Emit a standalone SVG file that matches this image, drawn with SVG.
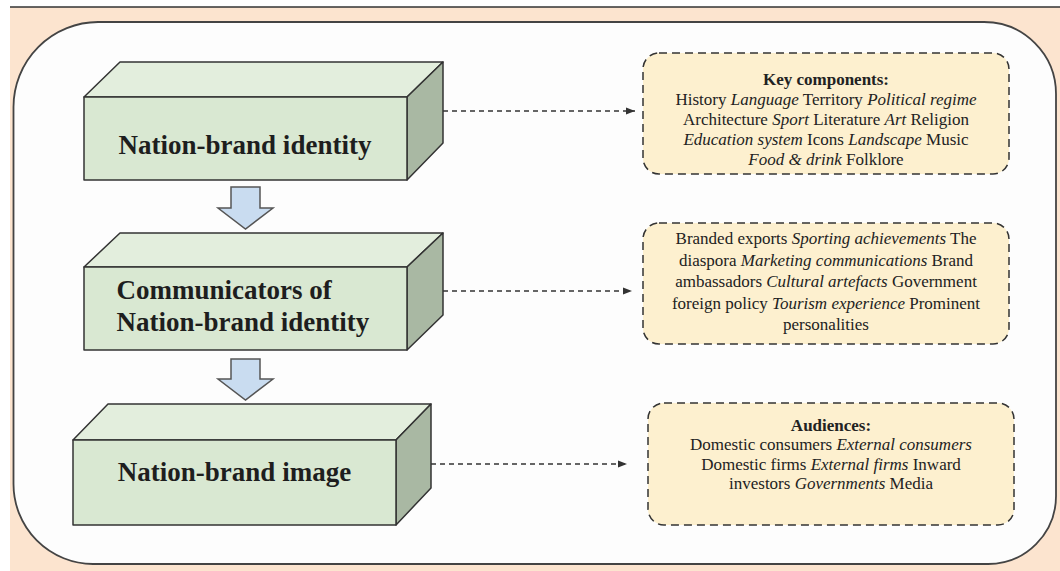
<svg xmlns="http://www.w3.org/2000/svg" width="1060" height="571" viewBox="0 0 1060 571">
<style>
.front{fill:#d9e8d2;stroke:#333;stroke-width:1.5;stroke-linejoin:round}
.top{fill:#e3eedd;stroke:#333;stroke-width:1.5;stroke-linejoin:round}
.side{fill:#a9b8a3;stroke:#333;stroke-width:1.5;stroke-linejoin:round}
.title{font-family:"Liberation Serif","Times New Roman",serif;font-weight:bold;font-size:27px;fill:#1e1e1e}
.info{fill:#fdf0cf;stroke:#333;stroke-width:1.5;stroke-dasharray:8 5}
.txt{font-family:"Liberation Serif","Times New Roman",serif;font-size:17px;fill:#222;text-anchor:middle}
.b{font-weight:bold}
.i{font-style:italic}
.dash{fill:none;stroke:#333;stroke-width:1.5;stroke-dasharray:5 4}
.blk{fill:#c9dcf0;stroke:#555;stroke-width:1.5;stroke-linejoin:miter}
</style>
<defs>
<marker id="ah" markerWidth="10" markerHeight="8" refX="9" refY="4" orient="auto" markerUnits="userSpaceOnUse">
<path d="M0,0.5 L9,4 L0,7.5 Z" fill="#333"/>
</marker>
</defs>
<g id="background">
<rect x="10" y="7" width="1050" height="564" fill="#fce4cf"/>
<line x1="10" y1="7" x2="1060" y2="7" stroke="#333" stroke-width="1.5"/>
<path d="M98,22 L984,22 A72,72 0 0 1 1056,94 L1056,496 A68,68 0 0 1 988,564 L93,564 A80,80 0 0 1 13.5,484 L13.5,107 A85,85 0 0 1 98,22 Z" fill="#fdfdfd" stroke="#444" stroke-width="1.8"/>
</g>
<g id="connectors">
<polygon class="blk" points="231,187 260,187 260,208 273,208 245.5,229 218,208 231,208"/>
<polygon class="blk" points="231,359 260,359 260,379 273,379 245.5,400 218,379 231,379"/>
<line class="dash" x1="443" y1="111" x2="635" y2="111" marker-end="url(#ah)"/>
<line class="dash" x1="443" y1="291" x2="632" y2="291" marker-end="url(#ah)"/>
<line class="dash" x1="431" y1="464" x2="627" y2="464" marker-end="url(#ah)"/>
</g>
<g id="node-identity">
<polygon class="top" points="84,97 120,62 443,62 407,97"/>
<polygon class="side" points="407,97 443,62 443,143 407,180"/>
<rect class="front" x="84" y="97" width="323" height="83"/>
<text class="title" x="245" y="154" text-anchor="middle">Nation-brand identity</text>
</g>
<g id="node-communicators">
<polygon class="top" points="84,267 120,233 443,233 407,267"/>
<polygon class="side" points="407,267 443,233 443,315 407,350"/>
<rect class="front" x="84" y="267" width="323" height="83"/>
<text class="title" x="116.5" y="299">Communicators of</text>
<text class="title" x="116.5" y="331">Nation-brand identity</text>
</g>
<g id="node-image">
<polygon class="top" points="73,440 108,404 431,404 396,440"/>
<polygon class="side" points="396,440 431,404 431,488 396,525"/>
<rect class="front" x="73" y="440" width="323" height="85"/>
<text class="title" x="234.5" y="481" text-anchor="middle">Nation-brand image</text>
</g>
<g id="info-components">
<rect class="info" x="643" y="53" width="366" height="121" rx="16"/>
<text class="txt b" x="826" y="85">Key components:</text>
<text class="txt" x="826" y="105">History <tspan class="i">Language</tspan> Territory <tspan class="i">Political regime</tspan></text>
<text class="txt" x="826" y="125">Architecture <tspan class="i">Sport</tspan> Literature <tspan class="i">Art</tspan> Religion</text>
<text class="txt" x="826" y="145"><tspan class="i">Education system</tspan> Icons <tspan class="i">Landscape</tspan> Music</text>
<text class="txt" x="826" y="165"><tspan class="i">Food &amp; drink</tspan> Folklore</text>
</g>
<g id="info-communicators">
<rect class="info" x="643" y="223" width="366" height="121" rx="16"/>
<text class="txt" x="826" y="244">Branded exports <tspan class="i">Sporting achievements</tspan> The</text>
<text class="txt" x="826" y="266">diaspora <tspan class="i">Marketing communications</tspan> Brand</text>
<text class="txt" x="826" y="287">ambassadors <tspan class="i">Cultural artefacts</tspan> Government</text>
<text class="txt" x="826" y="309">foreign policy <tspan class="i">Tourism experience</tspan> Prominent</text>
<text class="txt" x="826" y="330">personalities</text>
</g>
<g id="info-audiences">
<rect class="info" x="648" y="403" width="366" height="122" rx="16"/>
<text class="txt b" x="831" y="431">Audiences:</text>
<text class="txt" x="831" y="450">Domestic consumers <tspan class="i">External consumers</tspan></text>
<text class="txt" x="831" y="470">Domestic firms <tspan class="i">External firms</tspan> Inward</text>
<text class="txt" x="831" y="489">investors <tspan class="i">Governments</tspan> Media</text>
</g>
</svg>
